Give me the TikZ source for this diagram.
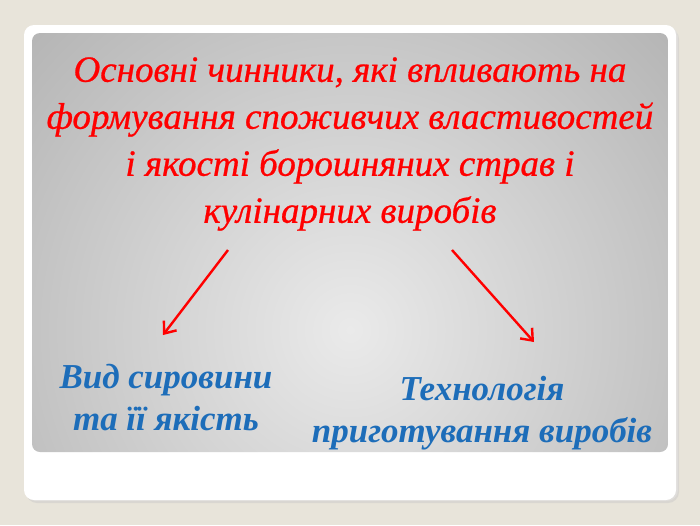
\documentclass[tikz,border=0pt]{standalone}
\usepackage{fontspec}
\setmainfont{Liberation Serif}
\newfontface\titlefont{Liberation Serif Italic}[FakeBold=0.7]
\usetikzlibrary{arrows.meta}
\definecolor{bgbeige}{HTML}{E8E4DA}
\definecolor{titlered}{HTML}{FF0000}
\definecolor{textblue}{HTML}{1D6DB9}
\definecolor{panelin}{HTML}{EAEAEA}
\definecolor{panelout}{HTML}{8E8E8E}
\tikzset{
  titletext/.style={text=titlered, font=\fontsize{37}{47}\selectfont\titlefont, align=center, inner sep=0pt},
  bluetext/.style={text=textblue, font=\fontsize{35}{42}\selectfont\bfseries\itshape, align=center, inner sep=0pt},
  redarrow/.style={draw=titlered, line width=2.4pt, -{Straight Barb[length=10pt,width=16pt,line width=2.4pt]}}
}
\begin{document}
\begin{tikzpicture}[x=1pt,y=-1pt]
\useasboundingbox (0,0) rectangle (700,525);
\fill[bgbeige] (0,0) rectangle (700,525);
% card shadow
\fill[black!22,opacity=0.45,rounded corners=11pt] (26,28) rectangle (679,503);
\fill[black!10,opacity=0.5,rounded corners=11pt] (25,26) rectangle (678,501);
% white card
\fill[white,rounded corners=10pt] (24,25) rectangle (676,500);
% gray panel
\begin{scope}
\clip[rounded corners=8pt] (32,33) rectangle (668,452);
\shade[inner color=panelin, outer color=panelout] (350,330) circle (760);
\end{scope}
% title
\node[titletext] (title) at (350,144) {Основні чинники, які впливають на\\формування споживчих властивостей\\і якості борошняних страв і\\кулінарних виробів};
\coordinate (ls) at (228,250);
\coordinate (le) at (163,335);
\coordinate (rs) at (452,250);
\coordinate (re) at (534,342);
\node[bluetext] (raw) at (166,398) {Вид сировини\\та її якість};
\node[bluetext] (tech) at (482,413) {Технологія\\приготування виробів};
\draw[redarrow] (ls) -- (le);
\draw[redarrow] (rs) -- (re);
\end{tikzpicture}
\end{document}
